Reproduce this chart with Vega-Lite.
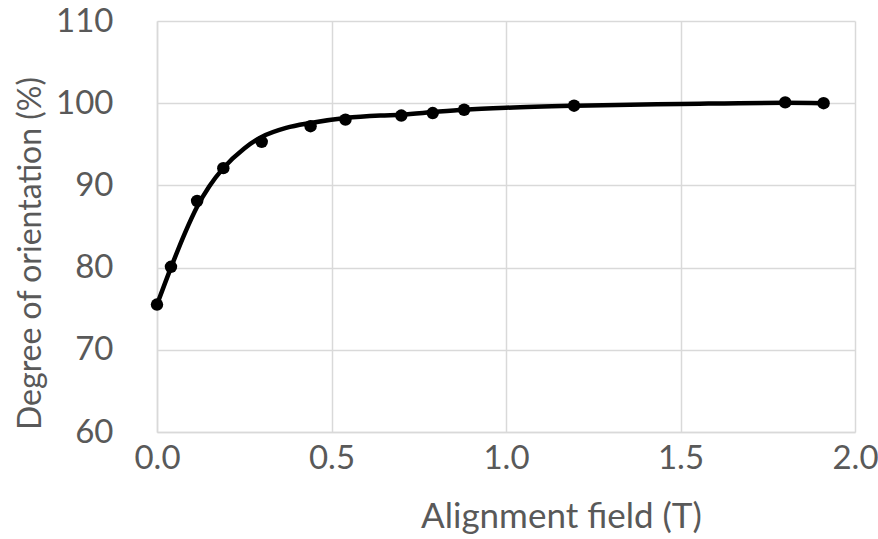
{
  "$schema": "https://vega.github.io/schema/vega-lite/v6.json",
  "width": 698,
  "height": 411,
  "autosize": {"type": "none"},
  "padding": {"left": 157, "top": 21, "right": 23, "bottom": 107},
  "background": "white",
  "config": {
    "view": {"stroke": null},
    "font": "Lato",
    "axis": {
      "grid": true,
      "gridColor": "#d9d9d9",
      "gridWidth": 1.5,
      "domainColor": "#d9d9d9",
      "domainWidth": 1.5,
      "ticks": false,
      "tickSize": 0,
      "labelColor": "#595959",
      "titleColor": "#595959",
      "labelFont": "Lato",
      "titleFont": "Lato",
      "labelFontSize": 33,
      "titleFontSize": 33,
      "labelFontWeight": "normal",
      "titleFontWeight": "normal"
    }
  },
  "datasets": {
    "points": [
      {"field": 0.0, "orientation": 75.5},
      {"field": 0.04, "orientation": 80.1},
      {"field": 0.115, "orientation": 88.1},
      {"field": 0.19, "orientation": 92.1},
      {"field": 0.3, "orientation": 95.3},
      {"field": 0.44, "orientation": 97.2},
      {"field": 0.54, "orientation": 98.0},
      {"field": 0.70, "orientation": 98.5},
      {"field": 0.79, "orientation": 98.8},
      {"field": 0.88, "orientation": 99.2},
      {"field": 1.195, "orientation": 99.7},
      {"field": 1.80, "orientation": 100.1},
      {"field": 1.91, "orientation": 100.0}
    ],
    "fit": [
      {"field": 0.0, "orientation": 75.5},
      {"field": 0.04, "orientation": 80.0},
      {"field": 0.08, "orientation": 84.2},
      {"field": 0.115, "orientation": 87.4},
      {"field": 0.15, "orientation": 89.9},
      {"field": 0.19, "orientation": 92.1},
      {"field": 0.25, "orientation": 94.5},
      {"field": 0.3, "orientation": 95.9},
      {"field": 0.37, "orientation": 97.0},
      {"field": 0.44, "orientation": 97.6},
      {"field": 0.54, "orientation": 98.2},
      {"field": 0.64, "orientation": 98.5},
      {"field": 0.7, "orientation": 98.6},
      {"field": 0.8, "orientation": 98.95},
      {"field": 0.88, "orientation": 99.2},
      {"field": 1.0, "orientation": 99.45},
      {"field": 1.2, "orientation": 99.7},
      {"field": 1.5, "orientation": 99.9},
      {"field": 1.8, "orientation": 100.05},
      {"field": 1.91, "orientation": 100.0}
    ]
  },
  "layer": [
    {
      "data": {"name": "fit"},
      "mark": {"type": "line", "color": "black", "strokeWidth": 4.5, "interpolate": "monotone"},
      "encoding": {
        "x": {
          "field": "field", "type": "quantitative",
          "scale": {"domain": [0, 2], "nice": false, "zero": false},
          "axis": {
            "values": [0, 0.5, 1, 1.5, 2],
            "format": ".1f",
            "labelPadding": 10,
            "title": "Alignment field (T)",
            "titleFontSize": 35,
            "titleX": 404,
            "titleY": 95,
            "titleAlign": "center",
            "titleBaseline": "alphabetic",
            "labelFlush": false
          }
        },
        "y": {
          "field": "orientation", "type": "quantitative",
          "scale": {"domain": [60, 110], "nice": false, "zero": false},
          "axis": {
            "values": [60, 70, 80, 90, 100, 110],
            "labelPadding": 44,
            "title": "Degree of orientation (%)",
            "titleX": -117,
            "titleY": 232,
            "titleFontSize": 32,
            "titleAlign": "center",
            "titleBaseline": "alphabetic",
            "titleAngle": 270
          }
        }
      }
    },
    {
      "data": {"name": "points"},
      "mark": {"type": "point", "filled": true, "color": "black", "size": 155, "opacity": 1},
      "encoding": {
        "x": {"field": "field", "type": "quantitative"},
        "y": {"field": "orientation", "type": "quantitative"}
      }
    }
  ]
}
